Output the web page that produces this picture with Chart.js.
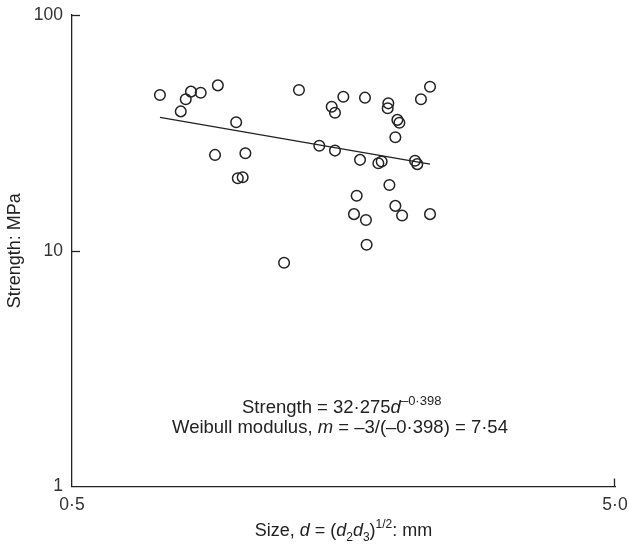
<!DOCTYPE html>
<html>
<head>
<meta charset="utf-8">
<script src="https://cdn.jsdelivr.net/npm/chart.js@4.4.1/dist/chart.umd.min.js"></script>
<style>
  body { margin: 0; background: #fff; }
  #wrap { width: 629px; height: 546px; }
</style>
</head>
<body>
<div id="wrap"><canvas id="chart" width="629" height="546"></canvas></div>
<script>
// Size d (mm) and strength (MPa) for each specimen
const sizeValues = [0.726, 0.810, 0.828, 0.863, 0.928, 0.793, 1.003, 0.917, 1.043, 1.010,
  1.031, 1.309, 1.504, 1.525, 1.580, 1.732, 1.912, 1.907, 1.987, 2.004,
  1.970, 2.196, 2.282, 1.427, 1.525, 1.696, 1.833, 1.859, 2.141, 2.162,
  1.921, 1.672, 1.653, 1.739, 1.970, 2.027, 2.282, 1.744, 1.229];
const strengthValues = [45.8, 43.9, 47.3, 46.8, 50.3, 39.0, 35.1, 25.5, 25.9, 20.3,
  20.5, 48.1, 40.8, 38.5, 45.0, 44.6, 42.2, 40.2, 35.9, 34.9,
  30.3, 43.9, 49.6, 27.9, 26.6, 24.3, 23.5, 23.9, 24.1, 23.3,
  19.0, 17.1, 14.3, 13.5, 15.5, 14.1, 14.3, 10.6, 8.90];

// fitted line end points
const fitSize = [0.726, 2.282];
const fitStrength = [36.8, 23.3];

const xTickValues = [0.5, 5];
const xTickLabels = ['0·5', '5·0'];
const yTickValues = [1, 10, 100];
const yTickLabels = ['1', '10', '100'];

const FONT = '"Liberation Sans", Arial, sans-serif';
const INK = '#222';

// draws a run of text pieces (normal / italic / sub / sup)
function drawRich(ctx, parts, x, y, align, size) {
  const small = Math.round(size * 0.68);
  const fontFor = p => (p.italic ? 'italic ' : '') + (p.sub || p.sup ? small : size) + 'px ' + FONT;
  let total = 0;
  parts.forEach(p => { ctx.font = fontFor(p); total += ctx.measureText(p.t).width; });
  let cx = align === 'center' ? x - total / 2 : x;
  parts.forEach(p => {
    ctx.font = fontFor(p);
    let dy = 0;
    if (p.sub) dy = size * 0.28;
    if (p.sup) dy = -size * 0.42;
    ctx.fillText(p.t, cx, y + dy);
    cx += ctx.measureText(p.t).width;
  });
}

const decorPlugin = {
  id: 'decor',
  afterDraw(chart) {
    const ctx = chart.ctx;
    const xs = chart.scales.x, ys = chart.scales.y;
    ctx.save();
    ctx.strokeStyle = INK;
    ctx.lineWidth = 1.3;
    // inward tick marks
    [10, 100].forEach(v => {
      const py = Math.round(ys.getPixelForValue(v)) + 0.5;
      ctx.beginPath();
      ctx.moveTo(xs.left, py);
      ctx.lineTo(xs.left + 8, py);
      ctx.stroke();
    });
    const px = Math.round(xs.getPixelForValue(5)) - 0.5;
    ctx.beginPath();
    ctx.moveTo(px, ys.bottom);
    ctx.lineTo(px, ys.bottom - 8);
    ctx.stroke();

    ctx.fillStyle = INK;
    ctx.textBaseline = 'alphabetic';
    ctx.textAlign = 'left';

    // equation text
    drawRich(ctx, [
      { t: 'Strength = 32·275' }, { t: 'd', italic: true }, { t: '–0·398', sup: true }
    ], 242, 413, 'left', 18.5);
    drawRich(ctx, [
      { t: 'Weibull modulus, ' }, { t: 'm', italic: true }, { t: ' = –3/(–0·398) = 7·54' }
    ], 172, 433, 'left', 18.5);

    // x axis title
    drawRich(ctx, [
      { t: 'Size, ' }, { t: 'd', italic: true }, { t: ' = (' }, { t: 'd', italic: true },
      { t: '2', sub: true }, { t: 'd', italic: true }, { t: '3', sub: true }, { t: ')' },
      { t: '1/2', sup: true }, { t: ': mm' }
    ], (xs.left + xs.right) / 2, 536, 'center', 18);

    // y axis title
    ctx.translate(20, (ys.top + ys.bottom) / 2);
    ctx.rotate(-Math.PI / 2);
    drawRich(ctx, [{ t: 'Strength: MPa' }], 0, 0, 'center', 18);
    ctx.restore();
  }
};

new Chart(document.getElementById('chart'), {
  type: 'scatter',
  data: {
    datasets: [
      {
        label: 'fit',
        data: fitSize.map((s, i) => ({ x: s, y: fitStrength[i] })),
        showLine: true,
        borderColor: INK,
        borderWidth: 1.4,
        pointRadius: 0
      },
      {
        label: 'specimens',
        data: sizeValues.map((s, i) => ({ x: s, y: strengthValues[i] })),
        pointRadius: 5.3,
        pointBackgroundColor: 'rgba(255,255,255,0)',
        pointBorderColor: INK,
        pointBorderWidth: 1.5
      }
    ]
  },
  options: {
    responsive: false,
    animation: false,
    devicePixelRatio: 1,
    layout: { padding: { top: 15, right: 14, left: 0, bottom: 0 } },
    plugins: { legend: { display: false }, tooltip: { enabled: false } },
    scales: {
      x: {
        type: 'logarithmic',
        min: 0.5,
        max: 5,
        afterBuildTicks: s => { s.ticks = xTickValues.map(v => ({ value: v })); },
        afterFit: s => { s.height = 59.5; s.paddingLeft = 0; s.paddingRight = 0; },
        grid: { display: false, drawTicks: false },
        border: { display: true, color: INK, width: 1.3 },
        ticks: {
          padding: 8,
          autoSkip: false,
          maxRotation: 0,
          color: '#333',
          font: { family: FONT, size: 17.5 },
          callback: v => xTickLabels[xTickValues.indexOf(v)]
        }
      },
      y: {
        type: 'logarithmic',
        min: 1,
        max: 100,
        afterBuildTicks: s => { s.ticks = yTickValues.map(v => ({ value: v })); },
        afterFit: s => { s.width = 72; s.paddingTop = 0; s.paddingBottom = 0; },
        grid: { display: false, drawTicks: false },
        border: { display: true, color: INK, width: 1.3 },
        ticks: {
          padding: 9,
          autoSkip: false,
          color: '#333',
          font: { family: FONT, size: 17.5 },
          callback: v => yTickLabels[yTickValues.indexOf(v)]
        }
      }
    }
  },
  plugins: [decorPlugin]
});
</script>
</body>
</html>
